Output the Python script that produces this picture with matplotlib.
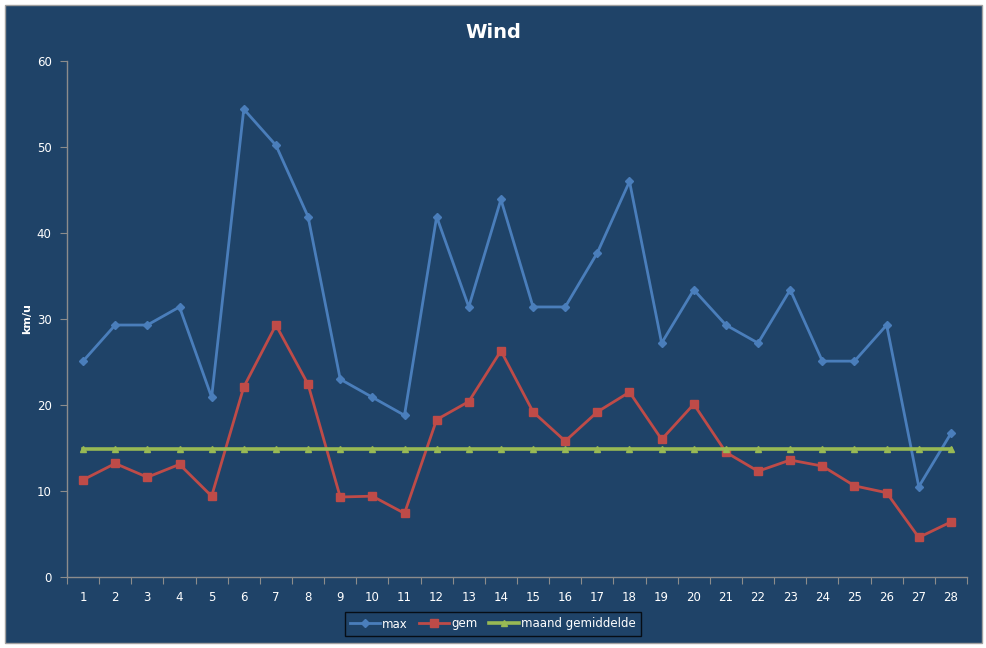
import numpy as np
import matplotlib
matplotlib.use("Agg")
import matplotlib.pyplot as plt
from matplotlib.patches import Rectangle

## Data
days = list(range(1, 29))
max_wind = [25.1, 29.3, 29.3, 31.4, 20.9, 54.4, 50.2, 41.9, 23.0, 20.9,
            18.8, 41.9, 31.4, 43.9, 31.4, 31.4, 37.7, 46.0, 27.2, 33.4,
            29.3, 27.2, 33.4, 25.1, 25.1, 29.3, 10.5, 16.7]
gem_wind = [11.3, 13.2, 11.6, 13.1, 9.4, 22.1, 29.3, 22.4, 9.3, 9.4,
            7.4, 18.3, 20.4, 26.3, 19.2, 15.8, 19.2, 21.5, 16.0, 20.1,
            14.5, 12.3, 13.6, 12.9, 10.6, 9.8, 4.6, 6.4]
maand_gem = [14.9] * 28

bg = "#1F4368"
axis_col = "#8C8C8C"

fig = plt.figure(figsize=(9.87, 6.48), dpi=100, facecolor="white")
# chart area panel, drawn behind everything
fig.patches.append(Rectangle((5 / 987, 5 / 648), 977 / 987, 638 / 648,
                             transform=fig.transFigure, facecolor=bg,
                             edgecolor="#A0A0A0", linewidth=1, zorder=-10))

ax = fig.add_axes([67 / 987, 1 - 577 / 648, 900 / 987, 516 / 648])
ax.patch.set_visible(False)

ax.plot(days, max_wind, color="#4A7EBB", lw=2.0, marker="D", ms=4, label="max")
ax.plot(days, gem_wind, color="#BE4B48", lw=2.0, marker="s", ms=5.5, label="gem")
ax.plot(days, maand_gem, color="#98B954", lw=2.6, marker="^", ms=5, label="maand gemiddelde")

ax.set_xlim(0.5, 28.5)
ax.set_ylim(0, 60)
ax.set_yticks(range(0, 61, 10))
ax.set_xticks(np.arange(0.5, 29, 1))
ax.set_xticklabels([])
ax.set_xticks(days, minor=True)
ax.set_xticklabels([str(d) for d in days], minor=True)
ax.tick_params(axis="x", which="major", length=5, color=axis_col, direction="out")
ax.tick_params(axis="x", which="minor", length=0, pad=10, labelcolor="white", labelsize=8.5)
ax.tick_params(axis="y", length=5, color=axis_col, labelcolor="white", labelsize=8.5, pad=6)

for s in ["top", "right"]:
    ax.spines[s].set_visible(False)
for s in ["left", "bottom"]:
    ax.spines[s].set_color(axis_col)
    ax.spines[s].set_linewidth(1)

ax.set_ylabel("km/u", color="white", fontsize=8, fontweight="bold")
ax.yaxis.set_label_coords(-0.039, 0.5)
fig.text(0.5, 1 - 32 / 648, "Wind", color="white", fontsize=14, fontweight="bold",
         ha="center", va="center")

leg = fig.legend(loc="center", bbox_to_anchor=(493 / 987, 1 - 624 / 648), ncol=3,
                 frameon=True, fancybox=False, fontsize=8.5, handlelength=2.5,
                 columnspacing=1.0, handletextpad=0.2, borderpad=0.45, borderaxespad=0.3)
leg.get_frame().set_facecolor(bg)
leg.get_frame().set_edgecolor("black")
leg.get_frame().set_linewidth(1)
for t in leg.get_texts():
    t.set_color("white")

fig.savefig("out.png", dpi=100, facecolor="white")
